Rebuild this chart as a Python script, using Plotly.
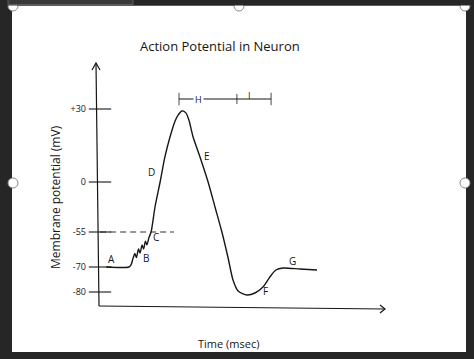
import numpy as np
import plotly.graph_objects as go

# ---------------- data ----------------
TIME_MS = [0.27, 1.03, 1.10, 1.17, 1.23, 1.28, 1.35, 1.40, 1.47, 1.52, 1.58, 1.63, 1.70, 1.77,
           1.90, 2.07, 2.23, 2.40, 2.57, 2.67, 2.80, 2.93, 3.03, 3.17, 3.40, 3.67, 3.90, 4.13,
           4.33, 4.50, 4.67, 4.97, 5.23, 5.50, 5.73, 5.93, 6.17, 6.73, 7.30]
MEMBRANE_MV = [-70.0, -70.0, -69.1, -66.2, -64.2, -66.0, -62.3, -64.0, -60.6, -62.3, -58.9, -60.5, -57.3, -55.0,
               -27.5, 0.0, 10.3, 18.5, 25.1, 27.5, 29.2, 28.4, 25.5, 18.5, 10.3, 0.0, -27.5, -55.0,
               -65.7, -75.2, -79.6, -81.2, -80.4, -78.0, -74.0, -71.2, -70.4, -70.8, -71.2]
TICK_MV = [30, 0, -55, -70, -80]
TICK_LABELS = ["+30", "0", "-55", "-70", "-80"]
THRESHOLD_MV = -55
THRESHOLD_SPAN_MS = [0.07, 2.53]
ABS_REFRACTORY_MS = [2.70, 4.63]
REL_REFRACTORY_MS = [4.63, 5.77]
PHASE_LABELS = ["A", "B", "C", "D", "E", "F", "G"]
PERIOD_LABELS = ["H", "I"]
TITLE = "Action Potential in Neuron"
X_TITLE = "Time (msec)"
Y_TITLE = "Membrane potential (mV)"

# ---------------- layout / scale ----------------
W, H = 474, 359
X_ORIGIN_PX = 98
PX_PER_MS = 30
SCALE_ROWS = [109, 182, 232, 267, 292]   # hand-drawn (non-linear) rows of the ticks
BRACKET_ROW = 99
INK = "#161616"
FONT = "Open Sans"
DARK = "#262626"


def to_row(v):
    v = np.asarray(v, float)
    order = np.argsort(TICK_MV)
    xs = np.asarray(TICK_MV, float)[order]
    ys = np.asarray(SCALE_ROWS, float)[order]
    out = np.interp(v, xs, ys)
    lo = (ys[1] - ys[0]) / (xs[1] - xs[0])
    hi = (ys[-1] - ys[-2]) / (xs[-1] - xs[-2])
    out = np.where(v < xs[0], ys[0] + (v - xs[0]) * lo, out)
    out = np.where(v > xs[-1], ys[-1] + (v - xs[-1]) * hi, out)
    return out


def fx(px):
    return px / W


def fy(py):
    return 1 - py / H


def t_of(px):
    return (px - X_ORIGIN_PX) / PX_PER_MS


fig = go.Figure()

# action potential curve
fig.add_trace(go.Scatter(x=TIME_MS, y=to_row(MEMBRANE_MV), mode="lines",
                         line=dict(color=INK, width=1.4, shape="spline", smoothing=0.7),
                         hoverinfo="skip"))
# threshold dashed line
fig.add_trace(go.Scatter(x=THRESHOLD_SPAN_MS, y=to_row([THRESHOLD_MV, THRESHOLD_MV]), mode="lines",
                         line=dict(color="#333333", width=1.1, dash="6px,4px"), hoverinfo="skip"))
# tick marks crossing the vertical axis
fig.add_trace(go.Scatter(x=[t_of(100)] * len(TICK_MV), y=to_row(TICK_MV), mode="markers",
                         marker=dict(symbol="line-ew", size=16, line=dict(color=INK, width=1.1)),
                         hoverinfo="skip"))
# refractory bracket
bx = [ABS_REFRACTORY_MS[0], REL_REFRACTORY_MS[1]]
fig.add_trace(go.Scatter(x=bx, y=[BRACKET_ROW, BRACKET_ROW], mode="lines",
                         line=dict(color=INK, width=1.1), hoverinfo="skip"))
fig.add_trace(go.Scatter(x=[ABS_REFRACTORY_MS[0], ABS_REFRACTORY_MS[1], REL_REFRACTORY_MS[1]],
                         y=[BRACKET_ROW] * 3, mode="markers",
                         marker=dict(symbol="line-ns", size=[9, 7, 9], line=dict(color=INK, width=1.1)),
                         hoverinfo="skip"))

shapes = []
# white page
shapes.append(dict(type="rect", xref="paper", yref="paper", x0=fx(12), x1=fx(466), y0=fy(352), y1=fy(5.5),
                   fillcolor="white", line=dict(width=0), layer="below"))
# hand-drawn axes
shapes.append(dict(type="line", xref="paper", yref="paper", x0=fx(99), y0=fy(306), x1=fx(96), y1=fy(63),
                   line=dict(color=INK, width=1.2)))
shapes.append(dict(type="path", xref="paper", yref="paper",
                   path=f"M{fx(92)},{fy(70)} L{fx(96)},{fy(63)} L{fx(100)},{fy(70)}",
                   line=dict(color=INK, width=1.2)))
shapes.append(dict(type="line", xref="paper", yref="paper", x0=fx(99), y0=fy(306), x1=fx(385), y1=fy(309),
                   line=dict(color=INK, width=1.2)))
shapes.append(dict(type="path", xref="paper", yref="paper",
                   path=f"M{fx(380)},{fy(305)} L{fx(385)},{fy(309)} L{fx(380)},{fy(313)}",
                   line=dict(color=INK, width=1.2)))
# selection handles
for cx, cy in [(13, 6), (239, 6), (465, 6), (13, 183), (465, 183)]:
    shapes.append(dict(type="circle", xref="paper", yref="paper",
                       x0=fx(cx - 5), x1=fx(cx + 5), y0=fy(cy + 5), y1=fy(cy - 5),
                       fillcolor="white", line=dict(color="#8a8a8a", width=1)))
# top dark band + toolbar (over the handles)
shapes.append(dict(type="rect", xref="paper", yref="paper", x0=0, x1=1, y0=fy(5.5), y1=1.01,
                   fillcolor=DARK, line=dict(width=0)))
shapes.append(dict(type="rect", xref="paper", yref="paper", x0=fx(8), x1=fx(133), y0=fy(4.5), y1=fy(-2),
                   fillcolor="#383838", line=dict(color="#5c5c5c", width=1)))

ann = []


def text(s, px, py, size, angle=0, bg=None):
    d = dict(text=s, x=fx(px), y=fy(py), xref="paper", yref="paper", showarrow=False,
             xanchor="center", yanchor="middle", textangle=angle,
             font=dict(family=FONT, size=size, color=INK))
    if bg:
        d["bgcolor"] = bg
    ann.append(d)


text(TITLE, 220, 46, 13)
text(Y_TITLE, 55, 197, 12, angle=-90)
text(X_TITLE, 228, 343, 11)
label_pos = [(111, 259), (146, 258), (156, 237), (151, 172), (207, 156), (265, 291), (292, 261)]
for s, (px, py) in zip(PHASE_LABELS, label_pos):
    text(s, px, py, 10)
text(PERIOD_LABELS[0], 198, 99, 9, bg="white")
text(PERIOD_LABELS[1], 249, 95, 9)

fig.update_layout(
    width=W, height=H, autosize=False,
    margin=dict(l=0, r=0, t=0, b=0, pad=0),
    paper_bgcolor=DARK, plot_bgcolor="rgba(0,0,0,0)",
    showlegend=False, shapes=shapes, annotations=ann,
    xaxis=dict(range=[t_of(0), t_of(W)], visible=False, domain=[0, 1]),
    yaxis=dict(range=[H, 0], domain=[0, 1], anchor="free", position=fx(X_ORIGIN_PX),
               tickvals=list(to_row(TICK_MV)), ticktext=TICK_LABELS, ticks="",
               showgrid=False, zeroline=False, showline=False, ticklabelstandoff=12,
               tickfont=dict(family=FONT, size=9, color=INK)),
)

fig.write_html("out.html")
